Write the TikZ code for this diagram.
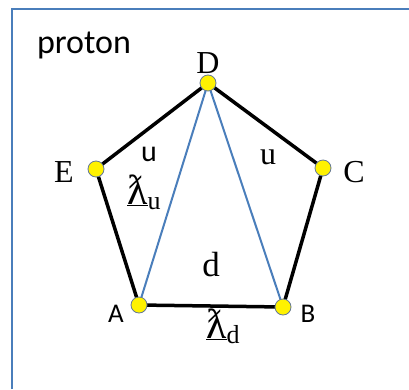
\documentclass[tikz,border=0pt]{standalone}
\usepackage{fontspec}
\setmainfont{Liberation Serif}
\newfontfamily\calib{Carlito}
\definecolor{boxblue}{RGB}{74,126,187}
\definecolor{dotline}{RGB}{100,120,150}
\tikzset{
  vtx/.style={circle,fill=yellow,draw=dotline,line width=0.8pt,minimum size=16pt,inner sep=0pt},
  edge/.style={line width=3.5pt,black},
  bedge/.style={line width=2pt,boxblue},
  serifl/.style={font=\fontsize{32}{32}\selectfont,inner sep=0pt},
  sansl/.style={font=\calib\fontsize{27}{27}\selectfont,inner sep=0pt},
  lam/.style={font=\fontsize{42}{42}\selectfont,inner sep=0pt,anchor=base west}
}
\newcommand{\lamsub}[1]{\underline{ƛ}\raisebox{-5pt}{\fontsize{26}{26}\selectfont #1}}
\begin{document}
\begin{tikzpicture}[x=1pt,y=-1pt]
\useasboundingbox (0,0) rectangle (409,389);
\fill[white] (0,0) rectangle (409,389);
\draw[boxblue,line width=2.5pt] (12,389) -- (12,9) -- (409,9);
\coordinate (Dp) at (208,83);
\coordinate (Ep) at (96,169);
\coordinate (Cp) at (323,168);
\coordinate (Ap) at (139,305);
\coordinate (Bp) at (283,307);
\draw[bedge] (Dp) -- (Ap);
\draw[bedge] (Dp) -- (Bp);
\draw[edge,line join=round] (Dp) -- (Ep) -- (Ap) -- (Bp) -- (Cp) -- cycle;
\node[vtx] (D) at (Dp) {};
\node[vtx] (E) at (Ep) {};
\node[vtx] (C) at (Cp) {};
\node[vtx] (A) at (Ap) {};
\node[vtx] (B) at (Bp) {};
\node[font=\calib\fontsize{34}{34}\selectfont,inner sep=0pt] (title) at (84,45) {proton};
\node[serifl] (lD) at (208,63) {D};
\node[serifl] (lE) at (64,172) {E};
\node[serifl] (lC) at (354,172) {C};
\node[sansl] (lA) at (116,314) {A};
\node[sansl] (lB) at (308,314) {B};
\node[font=\calib\fontsize{30}{30}\selectfont,inner sep=0pt] (u1) at (149,154) {u};
\node[serifl] (u2) at (268,157) {u};
\node[serifl,font=\fontsize{35}{35}\selectfont] (dd) at (211,265) {d};
\node[lam] (lu) at (127,204) {\lamsub{u}};
\node[lam] (ld) at (206,338) {\lamsub{d}};
\end{tikzpicture}
\end{document}
